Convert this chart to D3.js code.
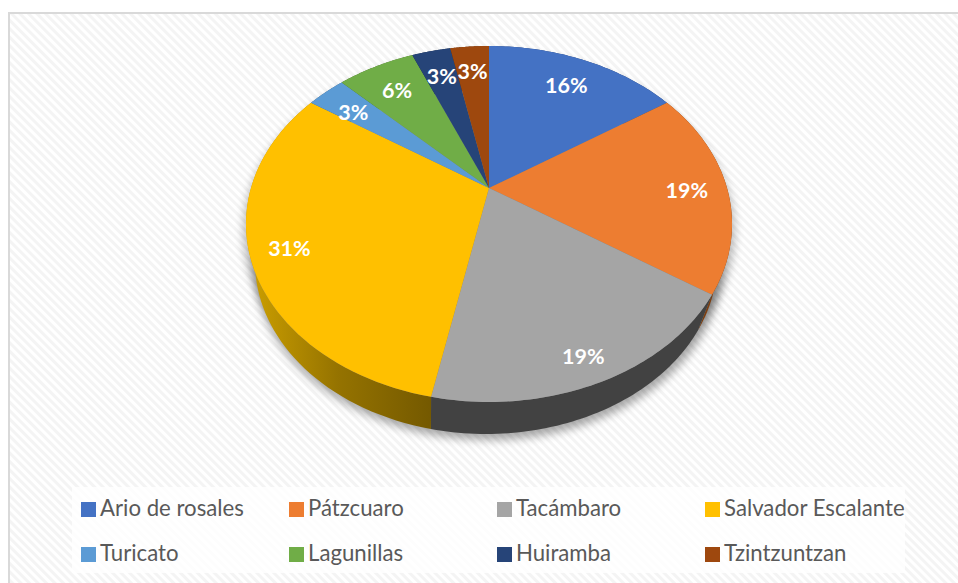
<!DOCTYPE html>
<html><head><meta charset="utf-8">
<style>html,body{margin:0;padding:0;background:#fff}svg{display:block}</style>
<script src="https://cdn.jsdelivr.net/npm/d3@7"></script></head>
<body><svg id="c" width="958" height="583"></svg>
<script>
const categories=["Ario de rosales","Pátzcuaro","Tacámbaro","Salvador Escalante","Turicato","Lagunillas","Huiramba","Tzintzuntzan"];
const values=[5,6,6,10,1,2,1,1];
const labels=["16%","19%","19%","31%","3%","6%","3%","3%"];
const colors=["#4472c4","#ed7d31","#a5a5a5","#ffc000","#5b9bd5","#70ad47","#264478","#9e480e"];
const sideColors=["#2a4476","#7e3f10","#424242","#8f6f00","#375d80","#43682a","#172948","#5f2b08"];

const svg=d3.select("#c"),defs=svg.append("defs");
const pat=defs.append("pattern").attr("id","hatch").attr("width",6).attr("height",6)
 .attr("patternUnits","userSpaceOnUse").attr("patternTransform","rotate(45)");
pat.append("rect").attr("width",6).attr("height",6).attr("fill","#ffffff");
pat.append("rect").attr("width",6).attr("height",3).attr("fill","#f4f4f4");
defs.append("filter").attr("id","blur").attr("x","-10%").attr("y","-10%").attr("width","120%").attr("height","120%")
 .append("feGaussianBlur").attr("stdDeviation",4);
const g=defs.append("linearGradient").attr("id","yside").attr("gradientUnits","userSpaceOnUse")
 .attr("x1",258).attr("x2",435).attr("y1",0).attr("y2",0);
[[0,"#c79b00"],[0.45,"#957300"],[1,"#735800"]].forEach(s=>g.append("stop").attr("offset",s[0]).attr("stop-color",s[1]));

svg.append("rect").attr("width",958).attr("height",583).attr("fill","#fff");
svg.append("rect").attr("x",9).attr("y",13).attr("width",960).attr("height",580)
 .attr("fill","url(#hatch)").attr("stroke","#d9d9d9").attr("stroke-width",2);

// perspective projection of the pie's circular top
const cx=489,apexY=188,k=238,a=170.7,c=-0.2022;
const ecy=224,ery=178,erx=243,bcx=486,bcy=262,bry=172,brx=231;
const rimTop=t=>{const X=Math.sin(t),Y=-Math.cos(t),d=1+c*Y;return [cx+k*X/d,apexY+a*Y/d];};
const rimBot=t=>{const p=rimTop(t);return [bcx+(p[0]-cx)*brx/erx,bcy+(p[1]-ecy)*bry/ery];};
const arcs=d3.pie().sort(null)(values);
const line=d3.line();
const samples=(s,e)=>d3.range(0,61).map(i=>s+(e-s)*i/60);

svg.append("ellipse").attr("cx",bcx+2).attr("cy",bcy+3).attr("rx",brx+3).attr("ry",bry+3)
 .attr("fill","#000").attr("opacity",.33).attr("filter","url(#blur)");
svg.append("ellipse").attr("cx",cx).attr("cy",ecy+8).attr("rx",erx+3).attr("ry",ery+2)
 .attr("fill","#000").attr("opacity",.25).attr("filter","url(#blur)");

svg.append("g").selectAll("path").data(arcs).join("path")
 .attr("d",d=>{const ts=samples(d.startAngle,d.endAngle);
   return line(ts.map(rimTop).concat(ts.slice().reverse().map(rimBot)))+"Z";})
 .attr("fill",(d,i)=>i===3?"url(#yside)":sideColors[i]);
svg.append("g").selectAll("path").data(arcs).join("path")
 .attr("d",d=>line([[cx,apexY]].concat(samples(d.startAngle,d.endAngle).map(rimTop)))+"Z")
 .attr("fill",(d,i)=>colors[i]);

const labelR=[.76,.76,.78,.72,.93,.83,.90,.9];
const labelDx=[5,17,7,-28,16,2,5,1], labelDy=[-6,2,17,9,13,3,11,10];
svg.append("g").selectAll("text").data(arcs).join("text")
 .attr("x",(d,i)=>rimTop((d.startAngle+d.endAngle)/2)[0]*labelR[i]+cx*(1-labelR[i])+labelDx[i])
 .attr("y",(d,i)=>rimTop((d.startAngle+d.endAngle)/2)[1]*labelR[i]+apexY*(1-labelR[i])+labelDy[i])
 .attr("text-anchor","middle").attr("dominant-baseline","central")
 .attr("font-family","Lato, sans-serif").attr("font-weight",700).attr("font-size",21.5).attr("fill","#fff")
 .text((d,i)=>labels[i]);

svg.append("rect").attr("x",72).attr("y",487).attr("width",833).attr("height",86).attr("fill","#fff").attr("opacity",.8);
const col=d3.scalePoint().domain(d3.range(4)).range([81,705]);
const row=d3.scalePoint().domain([0,1]).range([509.5,554.5]);
const leg=svg.append("g").selectAll("g").data(categories).join("g")
 .attr("transform",(d,i)=>`translate(${col(i%4)},${row(Math.floor(i/4))})`);
leg.append("rect").attr("x",0).attr("y",-7.5).attr("width",15).attr("height",15).attr("fill",(d,i)=>colors[i]);
leg.append("text").attr("x",19).attr("y",6.5)
 .attr("font-family","Lato, sans-serif").attr("font-size",22.2).attr("fill","#595959").text(d=>d);
</script></body></html>
